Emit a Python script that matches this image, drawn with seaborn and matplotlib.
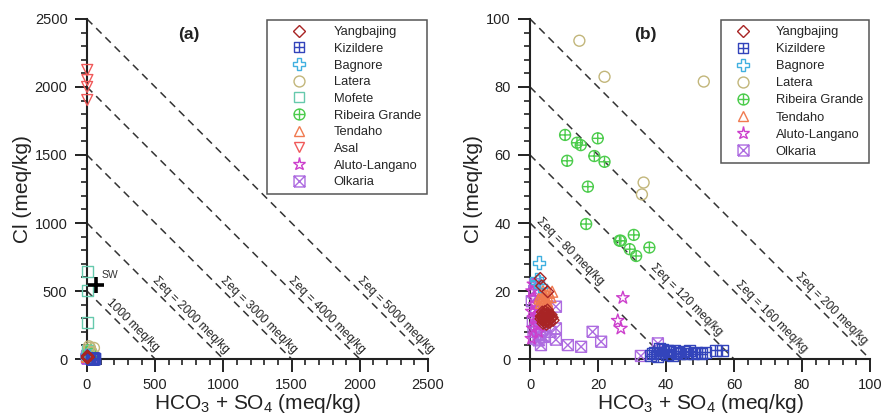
import numpy as np
import pandas as pd
import matplotlib
matplotlib.use("Agg")
import matplotlib.pyplot as plt
from matplotlib.path import Path
from matplotlib.lines import Line2D
from matplotlib.ticker import MultipleLocator
import seaborn as sns

# HCO3 + SO4 (x) and Cl (y), meq/kg
yangbajing_x = [3.0, 5.2, 3.4, 3.5, 4.0, 4.5, 5.0, 5.5, 6.0, 4.2, 3.8, 5.2, 6.5, 4.8, 3.2, 5.8, 4.4, 6.2, 3.6, 5.0,
                4.6, 4.1, 4.9, 5.4, 3.9, 5.6, 4.3, 6.8, 3.3, 5.1]
yangbajing_y = [23.7, 19.8, 21.5, 12.5, 11.5, 12.0, 11.0, 12.5, 11.8, 13.2, 10.5, 13.5, 12.2, 10.2, 11.8, 10.8, 14.0,
                13.0, 13.8, 12.3, 11.3, 12.8, 13.0, 11.6, 12.0, 12.9, 10.9, 11.4, 12.6, 14.4]
kizildere_x = [35.5, 36.5, 37.5, 38.5, 39.0, 40.0, 41.0, 42.0, 43.0, 44.0, 45.0, 46.0, 47.0, 48.0, 49.0, 50.5, 51.5,
               54.5, 56.5, 38.0, 40.5, 36.0, 42.5]
kizildere_y = [1.0, 2.0, 0.8, 1.8, 2.8, 1.2, 2.2, 0.9, 1.8, 1.5, 2.2, 1.6, 2.4, 1.5, 2.0, 1.6, 2.0, 2.6, 2.6, 3.2, 2.6,
               1.5, 2.5]
bagnore_x = [2.6, 2.3, 3.0, 2.0]
bagnore_y = [28.3, 22.7, 21.5, 23.5]
latera_x = [14.5, 21.9, 51.1, 33.4, 32.9]
latera_y = [93.6, 83.0, 81.6, 51.9, 48.4]
mofete_x = [2, 1, 1, 3, 2]
mofete_y = [642, 507, 267, 60, 30]
ribeira_x = [10.3, 13.8, 14.9, 19.9, 10.9, 18.9, 21.9, 17.0, 16.5, 26.3, 26.7, 30.5, 35.1, 29.3, 31.2]
ribeira_y = [65.9, 63.6, 62.9, 64.9, 58.3, 59.7, 58.0, 50.7, 39.7, 34.8, 34.8, 36.5, 32.8, 32.3, 30.3]
tendaho_x = [3.0, 3.5, 4.0, 4.5, 5.0, 3.2, 4.2, 5.5, 6.0, 3.8, 4.8, 2.8, 5.2, 6.5, 3.6, 4.4, 5.0, 4.0]
tendaho_y = [18.5, 17.5, 19.0, 18.0, 17.0, 16.5, 16.8, 19.5, 18.2, 20.0, 19.5, 17.8, 16.2, 19.8, 18.0, 17.2, 18.6, 18.0]
asal_x = [2, 3, 1, 2]
asal_y = [2125, 2051, 2000, 1904]
aluto_x = [27.3, 25.8, 26.7, 0.5, 1.0, 1.5, 0.8, 2.0, 1.2, 0.6, 2.5, 1.8, 0.4, 1.0, 2.2]
aluto_y = [18.0, 11.3, 9.0, 14, 12, 16, 9, 10, 18, 20, 8, 13, 6, 22, 15]
olkaria_x = [7.6, 7.6, 7.6, 11.1, 15.0, 18.4, 20.9, 3.2, 32.6, 37.6, 1.5, 2.5, 1.0, 3.0, 2.0, 0.8, 1.8, 3.5, 0.5, 1.2,
             2.8, 1.5, 4.0, 6.0]
olkaria_y = [15.4, 9.0, 5.7, 4.1, 3.6, 8.0, 5.1, 4.1, 0.9, 4.6, 6, 5.5, 8, 7, 9.5, 11, 14, 8.5, 17, 20, 12, 22, 6.5, 8]
sw_x, sw_y = 64, 544

sites = ["Yangbajing", "Kizildere", "Bagnore", "Latera", "Mofete", "Ribeira Grande",
         "Tendaho", "Asal", "Aluto-Langano", "Olkaria"]
xs = [yangbajing_x, kizildere_x, bagnore_x, latera_x, mofete_x, ribeira_x, tendaho_x, asal_x, aluto_x, olkaria_x]
ys = [yangbajing_y, kizildere_y, bagnore_y, latera_y, mofete_y, ribeira_y, tendaho_y, asal_y, aluto_y, olkaria_y]

df = pd.concat([pd.DataFrame({"site": s, "x": x, "y": y}) for s, x, y in zip(sites, xs, ys)], ignore_index=True)

sum_a = [1000, 2000, 3000, 4000, 5000]
sum_b = [80, 120, 160, 200]

# open markers with inner crosses
M, L = Path.MOVETO, Path.LINETO
sq = [(-1, -1), (1, -1), (1, 1), (-1, 1), (-1, -1)]
square_plus = Path(sq + [(0, -1), (0, 1), (-1, 0), (1, 0)], [M, L, L, L, L, M, L, M, L])
square_x = Path(sq + [(-1, -1), (1, 1), (-1, 1), (1, -1)], [M, L, L, L, L, M, L, M, L])
circle_plus = Path.make_compound_path(Path.unit_circle(),
                                      Path([(0, -1), (0, 1), (-1, 0), (1, 0)], [M, L, M, L]))

style = {
    "Yangbajing": ("D", "#a82424", 36),
    "Kizildere": (square_plus, "#3344bb", 62),
    "Bagnore": ("P", "#40b0e0", 85),
    "Latera": ("o", "#c2b67a", 62),
    "Mofete": ("s", "#66c9ad", 62),
    "Ribeira Grande": (circle_plus, "#4ccc4c", 62),
    "Tendaho": ("^", "#f07a50", 62),
    "Asal": ("v", "#f05a5a", 62),
    "Aluto-Langano": ("*", "#cc3fcc", 90),
    "Olkaria": (square_x, "#ad6be0", 62),
}

sns.set_style("ticks")
plt.rcParams["font.family"] = ["Liberation Sans", "DejaVu Sans"]
plt.rcParams["mathtext.fontset"] = "custom"
plt.rcParams["mathtext.rm"] = "Liberation Sans"
plt.rcParams["mathtext.default"] = "regular"

fig = plt.figure(figsize=(8.82, 4.17), dpi=100)
ax_a = fig.add_axes([0.0986, 0.139, 0.3867, 0.8155])
ax_b = fig.add_axes([0.601, 0.139, 0.3854, 0.8155])


def draw_panel(ax, R, sums, label_y, first_short, show, tag, tag_x, hlen, hpad, lspace):
    for c in sums:
        h = c / 2
        ax.plot([0, h], [h, 0], color="#333333", lw=1.1, dashes=(5, 3.5), zorder=1)
    for i, (c, yc) in enumerate(zip(sums, label_y)):
        h = c / 2
        yy = yc * R
        xx = h + 0.034 * R - yy
        txt = f"{c} meq/kg" if (first_short and i == 0) else f"\u03a3eq = {c} meq/kg"
        ax.text(xx, yy, txt, rotation=-45, ha="center", va="center", fontsize=8.6,
                color="#222222", rotation_mode="anchor", zorder=2)

    for s in reversed(show):
        m, col, size = style[s]
        d = df[df.site == s]
        sns.scatterplot(data=d, x="x", y="y", ax=ax, marker=m, s=size, color=col,
                        facecolors="none", edgecolor=col, linewidth=1.0,
                        clip_on=False, zorder=3, legend=False)
    handles = []
    for s in show:
        m, col, size = style[s]
        handles.append(Line2D([], [], ls="none", marker=m, markersize=np.sqrt(size),
                              markerfacecolor="none", markeredgecolor=col, markeredgewidth=1.0, label=s))
    leg = ax.legend(handles=handles, loc="upper right", bbox_to_anchor=(1.0, 1.0),
                    borderaxespad=0.1, fontsize=9.3, frameon=True, fancybox=False,
                    framealpha=1, edgecolor="#555555", handlelength=hlen,
                    handletextpad=hpad, labelspacing=lspace, borderpad=0.45)
    leg.set_zorder(10)
    leg.get_frame().set_linewidth(1.1)

    ax.set_xlim(0, R)
    ax.set_ylim(0, R)
    ax.xaxis.set_major_locator(MultipleLocator(R / 5))
    ax.yaxis.set_major_locator(MultipleLocator(R / 5))
    ax.xaxis.set_minor_locator(MultipleLocator(R / 25))
    ax.yaxis.set_minor_locator(MultipleLocator(R / 25))
    ax.tick_params(which="major", length=9, width=1.4, labelsize=10.5, pad=5, color="#222222",
                   labelcolor="#222222")
    ax.tick_params(which="minor", length=4.5, width=1.2, color="#222222")
    for sp in ["left", "bottom"]:
        ax.spines[sp].set_linewidth(1.5)
        ax.spines[sp].set_color("#222222")
    sns.despine(ax=ax)
    ax.set_xlabel(r"HCO$_3$ + SO$_4$ (meq/kg)", fontsize=15, labelpad=0, color="#222222")
    ax.set_ylabel("Cl (meq/kg)", fontsize=15, labelpad=2, color="#222222")
    ax.text(tag_x, 0.955, tag, transform=ax.transAxes, fontsize=12.5, fontweight="bold",
            ha="center", va="center", color="#222222")


draw_panel(ax_a, 2500, sum_a, [0.10, 0.13, 0.13, 0.13, 0.13], True, sites, "(a)", 0.30,
           4.1, 0.6, 0.36)
ax_a.plot([sw_x], [sw_y], marker="+", markersize=11, mew=2.6, color="black", zorder=5, clip_on=False)
ax_a.text(sw_x + 40, sw_y + 40, "SW", fontsize=7.5, color="#333333", va="bottom")

show_b = [s for s in sites if s not in ("Mofete", "Asal")]
draw_panel(ax_b, 100, sum_b, [0.316, 0.174, 0.123, 0.149], False, show_b, "(b)", 0.34,
           2.6, 1.2, 0.39)

fig.savefig("out.png", dpi=100)
